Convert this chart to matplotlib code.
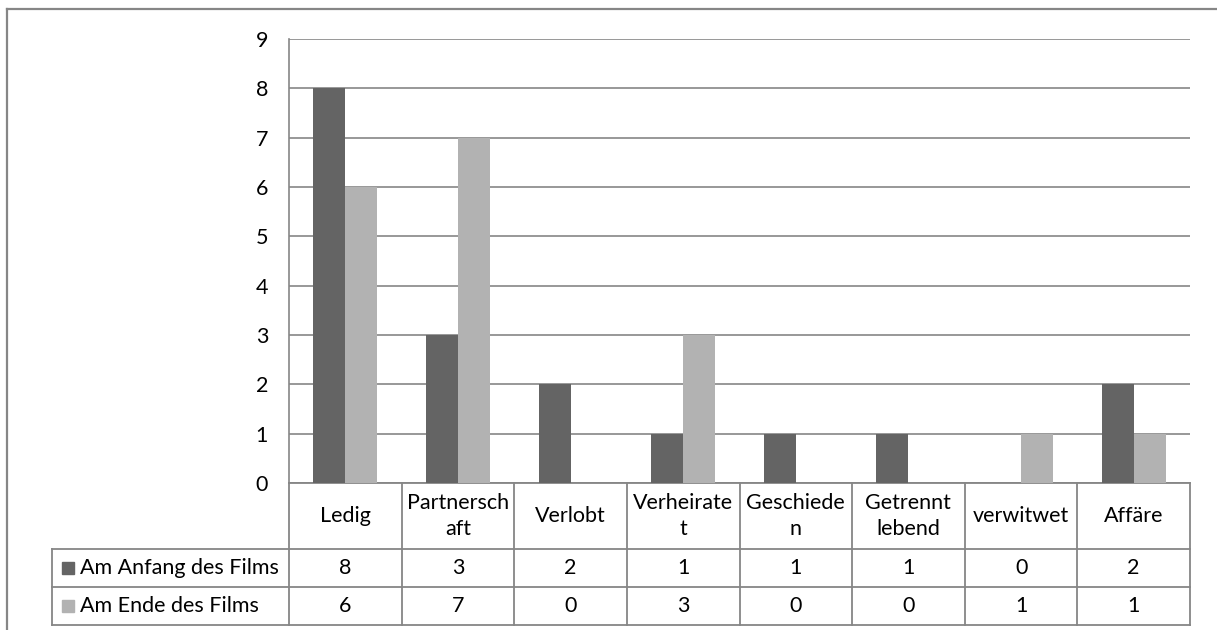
import numpy as np
import matplotlib.pyplot as plt
from matplotlib.lines import Line2D
from matplotlib.patches import Rectangle
from matplotlib import transforms

plt.rcParams['font.family'] = ['Lato', 'DejaVu Sans']

# data
categories = ["Ledig", "Partnersch\naft", "Verlobt", "Verheirate\nt", "Geschiede\nn",
              "Getrennt\nlebend", "verwitwet", "Affäre"]
series_names = ["Am Anfang des Films", "Am Ende des Films"]
anfang = [8, 3, 2, 1, 1, 1, 0, 2]
ende = [6, 7, 0, 3, 0, 0, 1, 1]
colors = ["#646464", "#b2b2b2"]

W, H = 1217, 630
grid_c = "#868686"
fs = 15.5
fig = plt.figure(figsize=(W / 100, H / 100), dpi=100)

# plot area in pixels
x0, x1, y_top, y_bot = 289, 1190, 39, 483
ax = fig.add_axes([x0 / W, 1 - y_bot / H, (x1 - x0) / W, (y_bot - y_top) / H])

x = np.arange(len(categories))
bw = 0.284
ax.bar(x - bw / 2, anfang, bw, color=colors[0], zorder=3)
ax.bar(x + bw / 2, ende, bw, color=colors[1], zorder=3)

ax.set_xlim(-0.5, len(categories) - 0.5)
ax.set_ylim(0, 9)
ax.set_yticks(range(0, 10))
ax.set_xticks([])
ax.yaxis.grid(True, color=grid_c, lw=1.2)
ax.set_axisbelow(True)
ax.tick_params(axis='y', length=0, pad=15, labelsize=fs)
for s in ["top", "right", "bottom"]:
    ax.spines[s].set_visible(False)
ax.spines["left"].set_color(grid_c)
ax.spines["left"].set_linewidth(1.2)

# data table below the axis
px = 1.0 / (y_bot - y_top)   # one pixel in axes fraction
row_edges = [0, -66 * px, -104 * px, -142 * px]
bt = transforms.blended_transform_factory(ax.transData, ax.transAxes)
lw = 1.3
n = len(categories)

# horizontal lines
ax.add_line(Line2D([-0.5, n - 0.5], [0, 0], transform=bt, color=grid_c, lw=lw, clip_on=False))
leg_left = (52 - x0) / (x1 - x0)
for yy in row_edges[1:]:
    ax.add_line(Line2D([leg_left, 1], [yy, yy], transform=ax.transAxes, color=grid_c,
                       lw=lw, clip_on=False))
# vertical lines
for i in range(n + 1):
    ax.add_line(Line2D([i - 0.5, i - 0.5], [0, row_edges[-1]], transform=bt, color=grid_c,
                       lw=lw, clip_on=False))
ax.add_line(Line2D([leg_left, leg_left], [row_edges[1], row_edges[-1]], transform=ax.transAxes,
                   color=grid_c, lw=lw, clip_on=False))

# header row
for i, cat in enumerate(categories):
    ax.text(i, row_edges[1] / 2, cat, transform=bt, ha="center", va="center",
            fontsize=fs, linespacing=1.4, clip_on=False)

# value rows with legend keys
for r, (name, vals) in enumerate(zip(series_names, [anfang, ende])):
    yc = (row_edges[r + 1] + row_edges[r + 2]) / 2
    ax.add_patch(Rectangle((leg_left + 10 / (x1 - x0), yc - 6 * px), 12 / (x1 - x0), 12 * px,
                           transform=ax.transAxes, color=colors[r], clip_on=False))
    ax.text(leg_left + 28 / (x1 - x0), yc, name, transform=ax.transAxes, ha="left",
            va="center", fontsize=fs, clip_on=False)
    for i, v in enumerate(vals):
        ax.text(i, yc, str(v), transform=bt, ha="center", va="center", fontsize=fs,
                clip_on=False)

# outer chart frame (clipped at right and bottom)
fig.add_artist(Line2D([7 / W, 7 / W], [0, 1 - 9 / H], color=grid_c, lw=1.6))
fig.add_artist(Line2D([7 / W, 1], [1 - 9 / H, 1 - 9 / H], color=grid_c, lw=1.6))

fig.savefig("out.png", dpi=100, facecolor="white")
